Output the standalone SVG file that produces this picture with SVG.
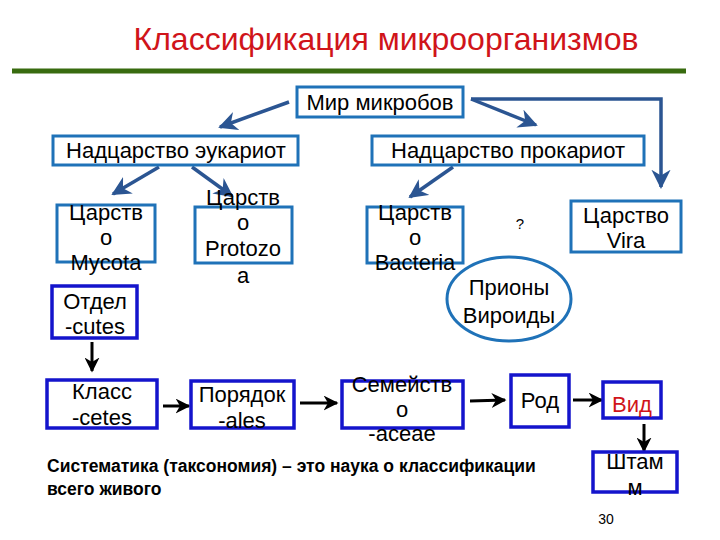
<svg xmlns="http://www.w3.org/2000/svg" width="720" height="540" viewBox="0 0 720 540">
<style>
text{font-family:"Liberation Sans",Arial,sans-serif;fill:#000;text-anchor:middle}
.n{font-size:22px}
.up{fill:#fff;stroke:#1f72b8;stroke-width:3}
.lo{fill:#fff;stroke:#1414cc;stroke-width:3.5}
.ba{fill:none;stroke:#2b5592;stroke-width:3.5;marker-end:url(#bh)}
.ka{fill:none;stroke:#000;stroke-width:3;marker-end:url(#kh)}
</style>
<defs>
<marker id="bh" viewBox="0 0 10 10" refX="9" refY="5" markerWidth="5.5" markerHeight="5.5" orient="auto" markerUnits="strokeWidth">
<path d="M0,0 L10,5 L0,10 L3,5 Z" fill="#2b5592"/>
</marker>
<marker id="kh" viewBox="0 0 10 10" refX="9" refY="5" markerWidth="5" markerHeight="5" orient="auto" markerUnits="strokeWidth">
<path d="M0,0 L10,5 L0,10 L3,5 Z" fill="#000"/>
</marker>
</defs>
<rect width="720" height="540" fill="#fff"/>
<text x="386" y="50" style="font-size:32px;fill:#d0141a">Классификация микроорганизмов</text>
<line x1="12" y1="71" x2="686" y2="71" stroke="#386b0f" stroke-width="5"/>

<g id="connectors">
<path class="ba" d="M289,102 L220,127"/>
<path class="ba" d="M471,99 L536,125"/>
<path class="ba" d="M471,99 L661,99 L661,187"/>
<path class="ba" d="M159,167 L113,194"/>
<path class="ba" d="M192,167 L232,196"/>
<path class="ba" d="M453,167 L410,197"/>
<path class="ka" d="M92,342 L92,371"/>
<path class="ka" d="M163,406 L189,406"/>
<path class="ka" d="M300,403 L337,403"/>
<path class="ka" d="M470,401 L505,400"/>
<path class="ka" d="M573,400 L602,400"/>
<path class="ka" d="M644,424 L644,451"/>
</g>

<g id="mir"><rect class="up" x="297" y="87" width="166" height="30"/><text class="n" x="380" y="110">Мир микробов</text></g>
<g id="euk"><rect class="up" x="53" y="136" width="245" height="29"/><text class="n" x="176" y="158">Надцарство эукариот</text></g>
<g id="prok"><rect class="up" x="372" y="136" width="272" height="29"/><text class="n" x="508" y="158">Надцарство прокариот</text></g>

<g id="mycota"><rect class="up" x="57" y="205" width="98" height="57"/>
<text class="n" x="106" y="220">Царств</text><text class="n" x="106" y="245">о</text><text class="n" x="106" y="270">Mycota</text></g>
<g id="protozoa"><rect class="up" x="195" y="207" width="97" height="56"/>
<text class="n" x="243" y="205">Царств</text><text class="n" x="243" y="230">о</text><text class="n" x="243" y="256">Protozo</text><text class="n" x="243" y="283">а</text></g>
<g id="bacteria"><rect class="up" x="367" y="207" width="96" height="56"/>
<text class="n" x="415" y="220">Царств</text><text class="n" x="415" y="245">о</text><text class="n" x="415" y="270">Bacteria</text></g>
<text x="520" y="229" style="font-size:15px">?</text>
<g id="vira"><rect class="up" x="571" y="201" width="110" height="51"/>
<text class="n" x="626" y="223">Царство</text><text class="n" x="626" y="248">Vira</text></g>
<g id="priony"><ellipse cx="509" cy="299" rx="62" ry="42" fill="#fff" stroke="#1f72b8" stroke-width="3"/>
<text class="n" x="509" y="295">Прионы</text><text class="n" x="509" y="323">Вироиды</text></g>

<g id="otdel"><rect class="lo" x="52" y="286" width="85" height="52"/>
<text class="n" x="95" y="309">Отдел</text><text class="n" x="95" y="334">-cutes</text></g>
<g id="klass"><rect class="lo" x="47" y="380" width="110" height="48"/>
<text class="n" x="102" y="399">Класс</text><text class="n" x="102" y="425">-cetes</text></g>
<g id="poryadok"><rect class="lo" x="191" y="381" width="103" height="47"/>
<text class="n" x="242" y="402">Порядок</text><text class="n" x="242" y="428">-ales</text></g>
<g id="semeystvo"><rect class="lo" x="342" y="381" width="121" height="47"/>
<text class="n" x="402" y="392">Семейств</text><text class="n" x="402" y="417">о</text><text class="n" x="402" y="441">-aceae</text></g>
<g id="rod"><rect class="lo" x="511" y="375" width="58" height="52"/><text class="n" x="540" y="408">Род</text></g>
<g id="vid"><rect class="lo" x="603" y="382" width="58" height="36"/><text class="n" x="632" y="412" style="fill:#d0141a">Вид</text></g>
<g id="shtamm"><rect class="lo" x="593" y="452" width="84" height="40"/>
<text class="n" x="635" y="469">Штам</text><text class="n" x="635" y="495">м</text></g>

<text x="47" y="472" style="font-size:17.5px;font-weight:bold;text-anchor:start">Систематика (таксономия) – это наука о классификации</text>
<text x="47" y="495" style="font-size:17.5px;font-weight:bold;text-anchor:start">всего живого</text>
<text x="606" y="524" style="font-size:14px">30</text>
</svg>
